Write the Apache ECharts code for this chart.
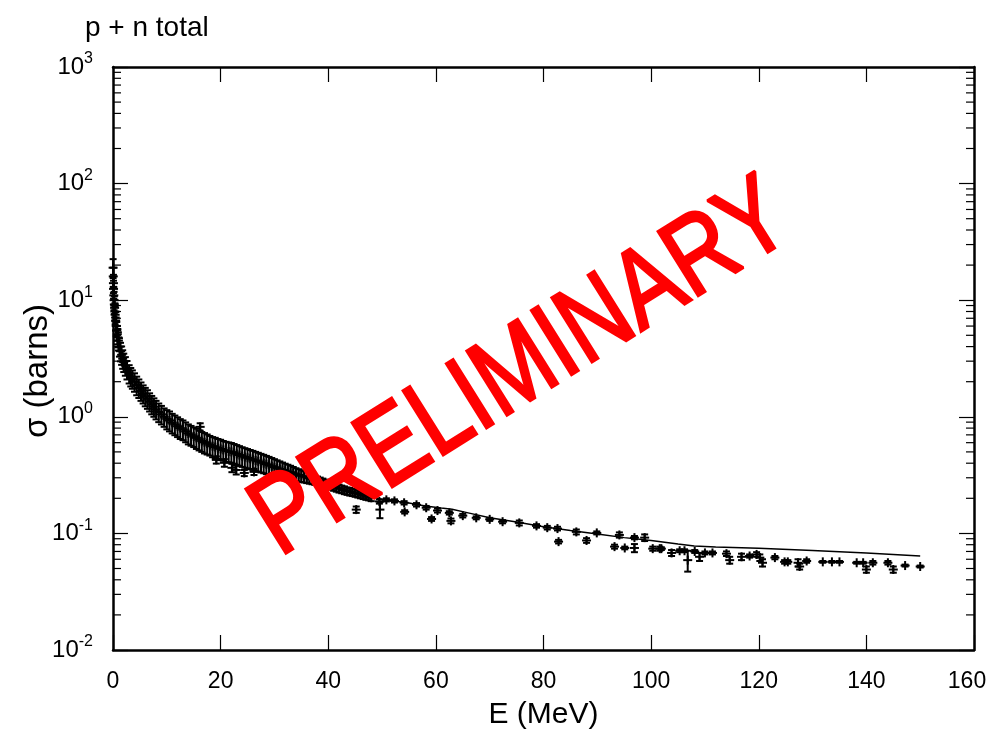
<!DOCTYPE html>
<html>
<head>
<meta charset="utf-8">
<script src="https://cdn.jsdelivr.net/npm/echarts@6/dist/echarts.min.js"></script>
<style>
  html, body { margin: 0; padding: 0; background: #fff; }
  #chart { width: 986px; height: 729px; }
</style>
</head>
<body>
<div id="chart"></div>
<script>
// dense measurements, 0 - 48 MeV
const eDense = [0.02, 0.05, 0.08, 0.1, 0.15, 0.2, 0.25, 0.3, 0.35, 0.4, 0.5, 0.6, 0.7, 0.8, 0.9, 1.0, 1.2, 1.4, 1.6, 1.8,
  2.0, 2.3, 2.6, 3.0, 3.3, 3.6, 4.0, 4.4, 4.8, 5.2, 5.6, 6.0, 6.4, 6.8, 7.2, 7.6, 8.0, 8.5, 9.0, 9.5,
  10, 10.5, 11, 11.5, 12, 12.5, 13, 13.5, 14, 14.5, 15, 15.5, 16, 16.5, 17, 17.5, 18, 18.5, 19, 19.5,
  20, 20.5, 21, 21.5, 22, 22.5, 23, 23.5, 24, 24.5, 25, 25.5, 26, 26.5, 27, 27.5, 28, 28.5, 29, 29.5,
  30, 30.5, 31, 31.5, 32, 32.5, 33, 33.5, 34, 34.5, 35, 35.5, 36, 36.5, 37, 37.5, 38, 38.5, 39, 39.5,
  40, 40.5, 41, 41.5, 42, 42.5, 43, 43.5, 44, 44.5, 45, 45.5, 46, 46.5, 47, 47.5, 48];
const sigmaDense = [19, 16, 14, 12.5, 11, 10, 9.2, 8.6, 8.0, 7.5, 6.7, 6.0, 5.5, 5.1, 4.8, 4.5, 4.0, 3.65, 3.4, 3.15,
  2.95, 2.75, 2.55, 2.35, 2.22, 2.12, 2.0, 1.87, 1.77, 1.67, 1.58, 1.5, 1.43, 1.35, 1.28, 1.22, 1.16, 1.1, 1.05, 1.0,
  0.96, 0.93, 0.89, 0.86, 0.83, 0.80, 0.78, 0.75, 0.72, 0.70, 0.68, 0.66, 0.64, 0.62, 0.605, 0.59, 0.575, 0.56, 0.55, 0.54,
  0.53, 0.52, 0.51, 0.505, 0.50, 0.49, 0.48, 0.47, 0.46, 0.452, 0.445, 0.437, 0.43, 0.422, 0.415, 0.407, 0.40, 0.392, 0.385, 0.377,
  0.37, 0.363, 0.357, 0.351, 0.345, 0.34, 0.335, 0.328, 0.322, 0.317, 0.312, 0.307, 0.302, 0.297, 0.292, 0.287, 0.282, 0.277, 0.272, 0.267,
  0.262, 0.257, 0.252, 0.247, 0.243, 0.239, 0.235, 0.231, 0.228, 0.225, 0.222, 0.218, 0.215, 0.211, 0.208, 0.205, 0.202];
const errDense = [3.5, 3, 2.5, 2.2, 2, 1.8, 1.6, 1.5, 1.4, 1.3, 1.2, 1.1, 1.0, 0.92, 0.86, 0.8, 0.72, 0.66, 0.61, 0.57,
  0.53, 0.5, 0.46, 0.42, 0.4, 0.38, 0.36, 0.34, 0.32, 0.3, 0.28, 0.27, 0.26, 0.24, 0.23, 0.22, 0.21, 0.2, 0.19, 0.18,
  0.18, 0.18, 0.17, 0.165, 0.16, 0.155, 0.15, 0.145, 0.14, 0.135, 0.13, 0.13, 0.125, 0.12, 0.12, 0.115, 0.11, 0.11, 0.11, 0.105,
  0.105, 0.1, 0.1, 0.098, 0.096, 0.094, 0.092, 0.09, 0.088, 0.086, 0.084, 0.082, 0.08, 0.078, 0.076, 0.074, 0.072, 0.07, 0.068, 0.066,
  0.063, 0.06, 0.057, 0.054, 0.051, 0.048, 0.045, 0.043, 0.04, 0.038, 0.036, 0.034, 0.032, 0.03, 0.028, 0.026, 0.025, 0.024, 0.023, 0.022,
  0.021, 0.02, 0.02, 0.019, 0.019, 0.018, 0.018, 0.017, 0.017, 0.016, 0.016, 0.015, 0.015, 0.014, 0.014, 0.013, 0.013];

// sparse measurements and outliers
const eSparse = [16.2, 19.2, 20.7, 22.1, 22.9, 24.4, 26.2, 45.2,
  49.5, 49.6, 50.8, 52.3, 54.1, 54.2, 56.4, 58.2, 59.2, 60.3, 62.5, 62.8, 65, 67.5, 70,
  72.4, 75.5, 78.7, 80.7, 82.6, 82.8, 86.1, 88.0, 89.9, 94.1, 93.2, 95.1, 96.9, 96.9, 98.8, 100.3, 101.6,
  101.9, 103.8, 105.3, 106.2, 106.8, 108.1, 109.0, 110.0, 111.4, 114.0, 114.6, 116.8, 118.3, 119.6, 120.2, 120.7,
  123.0, 124.8, 125.4, 127.3, 127.6, 128.9, 131.9, 133.6, 135.0, 138.2, 139.4, 140.0, 141.2, 144.0, 145.0, 147.2, 150.0];
const sigmaSparse = [0.82, 0.427, 0.403, 0.365, 0.35, 0.33, 0.337, 0.16,
  0.188, 0.16, 0.194, 0.19, 0.183, 0.153, 0.176, 0.166, 0.133, 0.157, 0.15, 0.128, 0.142, 0.136, 0.132,
  0.126, 0.123, 0.116, 0.112, 0.11, 0.085, 0.103, 0.087, 0.101, 0.097, 0.077, 0.075, 0.092, 0.075, 0.092, 0.074, 0.074,
  0.074, 0.068, 0.071, 0.071, 0.059, 0.070, 0.063, 0.068, 0.068, 0.067, 0.059, 0.063, 0.064, 0.066, 0.062, 0.056,
  0.062, 0.057, 0.057, 0.056, 0.052, 0.058, 0.057, 0.057, 0.057, 0.056, 0.056, 0.049, 0.056, 0.056, 0.049, 0.053, 0.052];
const errSparse = [0.06, 0.03, 0.03, 0.03, 0.03, 0.02, 0.02, 0.01,
  0.008, 0.025, 0.006, 0.006, 0.006, 0.005, 0.006, 0.006, 0.005, 0.006, 0.005, 0.006, 0.005, 0.004, 0.004,
  0.004, 0.006, 0.004, 0.004, 0.004, 0.003, 0.005, 0.004, 0.003, 0.005, 0.003, 0.002, 0.003, 0.006, 0.006, 0.003, 0.003,
  0.002, 0.004, 0.002, 0.002, 0.012, 0.002, 0.005, 0.002, 0.002, 0.003, 0.004, 0.004, 0.002, 0.003, 0.004, 0.004,
  0.002, 0.002, 0.002, 0.004, 0.003, 0.002, 0.001, 0.001, 0.001, 0.001, 0.001, 0.003, 0.002, 0.002, 0.003, 0.001, 0.001];

// model curve
const modelE = [0.5, 1, 2, 4, 7, 10, 15, 20, 25, 30, 35, 40, 45, 50, 55, 58, 61, 63, 66, 70, 75, 80, 85, 90, 95, 100,
  105, 108, 112, 120, 130, 140, 150];
const modelSigma = [6.7, 4.5, 2.95, 2.0, 1.3, 0.96, 0.68, 0.53, 0.445, 0.37, 0.31, 0.262, 0.226, 0.195, 0.182, 0.172,
  0.165, 0.161, 0.150, 0.136, 0.125, 0.114, 0.106, 0.099, 0.092, 0.087, 0.081, 0.078, 0.0765, 0.0745, 0.0715, 0.068, 0.064];

const yTickExp = ['-2', '-1', '0', '1', '2', '3'];
const yMinorTicks = [0.02, 0.03, 0.04, 0.05, 0.06, 0.07, 0.08, 0.09, 0.2, 0.3, 0.4, 0.5, 0.6, 0.7, 0.8, 0.9,
  2, 3, 4, 5, 6, 7, 8, 9, 20, 30, 40, 50, 60, 70, 80, 90, 200, 300, 400, 500, 600, 700, 800, 900];

const font = 'Liberation Sans, Arial, Helvetica, sans-serif';

const chart = echarts.init(document.getElementById('chart'));

function renderPoint(params, api) {
  const e = api.value(0), s = api.value(1), err = api.value(2);
  const c = api.coord([e, s]);
  const hi = api.coord([e, s + err]);
  const lo = api.coord([e, Math.max(s - err, 0.011)]);
  const st = { stroke: '#000', lineWidth: 2 };
  return {
    type: 'group',
    children: [
      { type: 'line', shape: { x1: c[0] - 4.5, y1: c[1], x2: c[0] + 4.5, y2: c[1] }, style: st },
      { type: 'line', shape: { x1: c[0], y1: c[1] - 4.5, x2: c[0], y2: c[1] + 4.5 }, style: st },
      { type: 'line', shape: { x1: c[0], y1: hi[1], x2: c[0], y2: lo[1] }, style: st },
      { type: 'line', shape: { x1: c[0] - 3.5, y1: hi[1], x2: c[0] + 3.5, y2: hi[1] }, style: st },
      { type: 'line', shape: { x1: c[0] - 3.5, y1: lo[1], x2: c[0] + 3.5, y2: lo[1] }, style: st }
    ]
  };
}

function renderMinorTick(params, api) {
  const v = api.value(1);
  const l = api.coord([0, v]);
  const r = api.coord([160, v]);
  const st = { stroke: '#000', lineWidth: 1.2 };
  return {
    type: 'group',
    children: [
      { type: 'line', shape: { x1: l[0], y1: l[1], x2: l[0] + 8, y2: l[1] }, style: st },
      { type: 'line', shape: { x1: r[0] - 8, y1: r[1], x2: r[0], y2: r[1] }, style: st }
    ]
  };
}

const axisLine = { onZero: false, lineStyle: { color: '#000', width: 2.5 } };
const majorTick = { inside: true, length: 15, lineStyle: { color: '#000', width: 1.2 } };

chart.setOption({
  animation: false,
  backgroundColor: '#fff',
  textStyle: { fontFamily: font },
  title: {
    text: 'p + n total',
    left: 80, top: 9,
    textStyle: { fontSize: 28, fontWeight: 'normal', color: '#000', fontFamily: font }
  },
  grid: { left: 113, right: 12, top: 67, bottom: 79, outerBoundsMode: 'none' },
  xAxis: [
    {
      type: 'value', min: 0, max: 160, interval: 20, position: 'bottom',
      axisLine: axisLine, axisTick: majorTick, splitLine: { show: false },
      axisLabel: {
        fontSize: 23, color: '#000', margin: 20, fontFamily: font,
        // the last label is pulled left so it stays inside the frame
        formatter: function (v) { return v === 160 ? '{last|' + v + '}' : String(v); },
        rich: { last: { fontSize: 23, color: '#000', fontFamily: font, padding: [0, 14, 0, 0] } }
      },
      name: 'E (MeV)', nameLocation: 'middle', nameGap: 50,
      nameTextStyle: { fontSize: 30, color: '#000', fontFamily: font }
    },
    {
      type: 'value', min: 0, max: 160, interval: 20, position: 'top',
      axisLine: axisLine, axisTick: majorTick, splitLine: { show: false },
      axisLabel: { show: false }
    }
  ],
  yAxis: [
    {
      type: 'log', logBase: 10, min: 0.01, max: 1000, position: 'left',
      axisLine: axisLine, axisTick: majorTick, splitLine: { show: false },
      axisLabel: {
        margin: 20, color: '#000',
        formatter: function (v) {
          const i = Math.round(Math.log10(v)) + 2;
          return '{b|10}{s|' + yTickExp[i] + '}';
        },
        rich: {
          b: { fontSize: 24, lineHeight: 24, color: '#000', fontFamily: font },
          s: { fontSize: 16, lineHeight: 16, padding: [0, 0, 16, 0], color: '#000', fontFamily: font }
        }
      }
    },
    {
      type: 'log', logBase: 10, min: 0.01, max: 1000, position: 'right',
      axisLine: axisLine, axisTick: majorTick, splitLine: { show: false },
      axisLabel: { show: false }
    }
  ],
  graphic: [
    {
      type: 'text', x: 38, y: 371, rotation: Math.PI / 2,
      style: { text: 'σ (barns)', fontSize: 33, fill: '#000', fontFamily: font, align: 'center', verticalAlign: 'middle' }
    },
    {
      type: 'text', x: 522, y: 370, rotation: 32 * Math.PI / 180, scaleX: 0.82, z: 100,
      style: {
        text: 'PRELIMINARY', fontSize: 110, fill: '#ff0000', stroke: '#ff0000', lineWidth: 3,
        fontFamily: font, align: 'center', verticalAlign: 'middle'
      }
    }
  ],
  series: [
    {
      type: 'custom', name: 'minor ticks', xAxisIndex: 0, yAxisIndex: 0, clip: false,
      renderItem: renderMinorTick,
      data: yMinorTicks.map(v => [0, v])
    },
    {
      type: 'line', name: 'model', xAxisIndex: 0, yAxisIndex: 0,
      data: modelE.map((e, i) => [e, modelSigma[i]]),
      showSymbol: false, smooth: false,
      lineStyle: { color: '#000', width: 1.5 }
    },
    {
      type: 'custom', name: 'data', xAxisIndex: 0, yAxisIndex: 0,
      renderItem: renderPoint,
      encode: { x: 0, y: 1 },
      data: eDense.map((e, i) => [e, sigmaDense[i], errDense[i]])
        .concat(eSparse.map((e, i) => [e, sigmaSparse[i], errSparse[i]]))
    }
  ]
});
</script>
</body>
</html>
